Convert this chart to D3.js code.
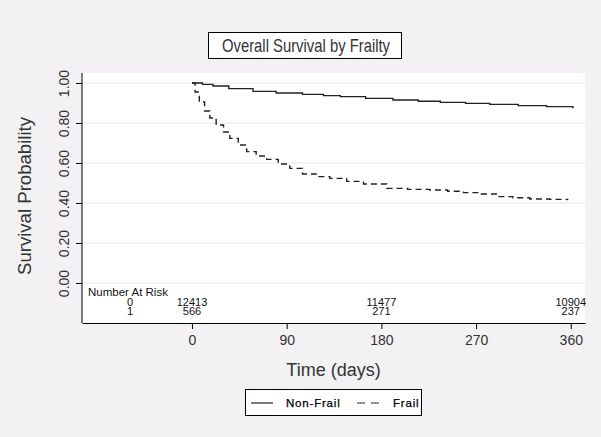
<!DOCTYPE html>
<html>
<head>
<meta charset="utf-8">
<script src="https://cdn.jsdelivr.net/npm/d3@7"></script>
<style>
  body { margin: 0; background: #f4f1f4; }
  svg { display: block; font-family: "Liberation Sans", Arial, sans-serif; }
</style>
</head>
<body>
<svg id="chart" width="601" height="437"></svg>
<script>
// Kaplan-Meier estimates (days, survival)
const nonFrailDays = [0, 10, 20, 35, 58, 80, 105, 125, 141, 165, 191, 215, 236, 260, 283, 310, 337, 362];
const nonFrailSurv = [1.0, 0.993, 0.985, 0.972, 0.958, 0.95, 0.943, 0.937, 0.932, 0.923, 0.915, 0.909, 0.903, 0.898, 0.893, 0.887, 0.882, 0.874];
const frailDays = [0, 3, 7, 12, 17, 23, 30, 36, 44, 52, 61, 71, 82, 93, 105, 118, 131, 147, 163, 185, 205, 226, 243, 258, 275, 290, 305, 321, 340, 357];
const frailSurv = [1.0, 0.955, 0.905, 0.86, 0.825, 0.79, 0.755, 0.723, 0.69, 0.657, 0.635, 0.618, 0.595, 0.573, 0.545, 0.532, 0.523, 0.508, 0.495, 0.473, 0.468, 0.465, 0.459, 0.452, 0.445, 0.432, 0.426, 0.42, 0.418, 0.414];

const xTicks = [0, 90, 180, 270, 360];
const yTicks = [0, 0.2, 0.4, 0.6, 0.8, 1.0];

// number at risk table
const riskTimes = [0, 180, 360];
const riskGroups = ['0', '1'];
const riskNonFrail = [12413, 11477, 10904];
const riskFrail = [566, 271, 237];

const svg = d3.select('#chart');

const x = d3.scaleLinear().domain([-104.5, 373.5]).range([82, 585]);
const y = d3.scaleLinear().domain([0, 1]).range([283, 83]);
const plotTop = 73, plotBottom = 323;
const midX = (x.range()[0] + x.range()[1]) / 2;

// plot region
svg.append('rect')
  .attr('x', x.range()[0]).attr('y', plotTop)
  .attr('width', x.range()[1] - x.range()[0]).attr('height', plotBottom - plotTop)
  .attr('fill', '#fff');

// gridlines
svg.append('g')
  .selectAll('line')
  .data(yTicks)
  .enter().append('line')
  .attr('x1', x.range()[0]).attr('x2', x.range()[1])
  .attr('y1', d => y(d)).attr('y2', d => y(d))
  .attr('stroke', '#e6e6e6').attr('stroke-width', 1);

// axes
const yAxis = svg.append('g')
  .attr('transform', `translate(${x.range()[0]},0)`)
  .call(d3.axisLeft(y).tickValues(yTicks).tickFormat(d3.format('.2f')).tickSize(6).tickSizeOuter(0));
yAxis.select('.domain').attr('d', `M0,${plotTop}V${plotBottom}`);
yAxis.selectAll('.tick text')
  .attr('transform', 'rotate(-90)')
  .attr('x', 0).attr('y', -18)
  .attr('dy', '0.35em')
  .attr('text-anchor', 'middle')
  .attr('font-size', 14)
  .attr('font-family', '"Liberation Sans", Arial, sans-serif')
  .attr('fill', '#333');

const xAxis = svg.append('g')
  .attr('transform', `translate(0,${plotBottom})`)
  .call(d3.axisBottom(x).tickValues(xTicks).tickSize(6).tickSizeOuter(0));
xAxis.selectAll('.tick text')
  .attr('y', 12)
  .attr('font-size', 14)
  .attr('font-family', '"Liberation Sans", Arial, sans-serif')
  .attr('fill', '#333');

// axis titles
svg.append('text')
  .attr('transform', 'translate(31,196) rotate(-90)')
  .attr('text-anchor', 'middle')
  .attr('font-size', 18)
  .attr('textLength', 158).attr('lengthAdjust', 'spacingAndGlyphs')
  .attr('fill', '#333')
  .text('Survival Probability');

svg.append('text')
  .attr('x', midX).attr('y', 376)
  .attr('text-anchor', 'middle')
  .attr('font-size', 18)
  .attr('fill', '#333')
  .text('Time (days)');

// title box
svg.append('rect')
  .attr('x', 208.5).attr('y', 32.5).attr('width', 193).attr('height', 26)
  .attr('fill', '#fff').attr('stroke', '#000');
svg.append('text')
  .attr('x', 306).attr('y', 52)
  .attr('text-anchor', 'middle')
  .attr('font-size', 19)
  .attr('textLength', 168).attr('lengthAdjust', 'spacingAndGlyphs')
  .attr('fill', '#333')
  .text('Overall Survival by Frailty');

// survival curves
const line = d3.line()
  .x(d => x(d[0]))
  .y(d => y(d[1]))
  .curve(d3.curveStepAfter);

svg.append('path')
  .datum(nonFrailDays.map((d, i) => [d, nonFrailSurv[i]]))
  .attr('d', line)
  .attr('fill', 'none')
  .attr('stroke', '#222')
  .attr('stroke-width', 1.4);

svg.append('path')
  .datum(frailDays.map((d, i) => [d, frailSurv[i]]))
  .attr('d', line)
  .attr('fill', 'none')
  .attr('stroke', '#222')
  .attr('stroke-width', 1.4)
  .attr('stroke-dasharray', '6,4');

// number at risk
const risk = svg.append('g').attr('font-size', 11).attr('fill', '#111');
risk.append('text')
  .attr('x', 88).attr('y', 296)
  .attr('font-size', 11.5)
  .text('Number At Risk');
risk.selectAll('.grp')
  .data(riskGroups)
  .enter().append('text')
  .attr('class', 'grp')
  .attr('x', 130).attr('y', (d, i) => 305.5 + i * 9.5)
  .attr('text-anchor', 'middle')
  .text(d => d);
[riskNonFrail, riskFrail].forEach((row, r) => {
  risk.selectAll('.row' + r)
    .data(row)
    .enter().append('text')
    .attr('x', (d, i) => x(riskTimes[i]))
    .attr('y', 305.5 + r * 9.5)
    .attr('text-anchor', 'middle')
    .text(d => d);
});

// legend
const legend = svg.append('g');
legend.append('rect')
  .attr('x', 245.5).attr('y', 389.5).attr('width', 176).attr('height', 26)
  .attr('fill', '#fff').attr('stroke', '#000');
legend.append('line')
  .attr('x1', 251).attr('x2', 273).attr('y1', 403).attr('y2', 403)
  .attr('stroke', '#222').attr('stroke-width', 1.2);
legend.append('text')
  .attr('x', 286).attr('y', 407)
  .attr('font-size', 11.5).attr('letter-spacing', 0.8).attr('fill', '#000')
  .attr('stroke', '#000').attr('stroke-width', 0.25)
  .text('Non-Frail');
legend.append('line')
  .attr('x1', 357).attr('x2', 381).attr('y1', 403).attr('y2', 403)
  .attr('stroke', '#222').attr('stroke-width', 1.2)
  .attr('stroke-dasharray', '8,6');
legend.append('text')
  .attr('x', 393).attr('y', 407)
  .attr('font-size', 11.5).attr('letter-spacing', 0.8).attr('fill', '#000')
  .attr('stroke', '#000').attr('stroke-width', 0.25)
  .text('Frail');
</script>
</body>
</html>
